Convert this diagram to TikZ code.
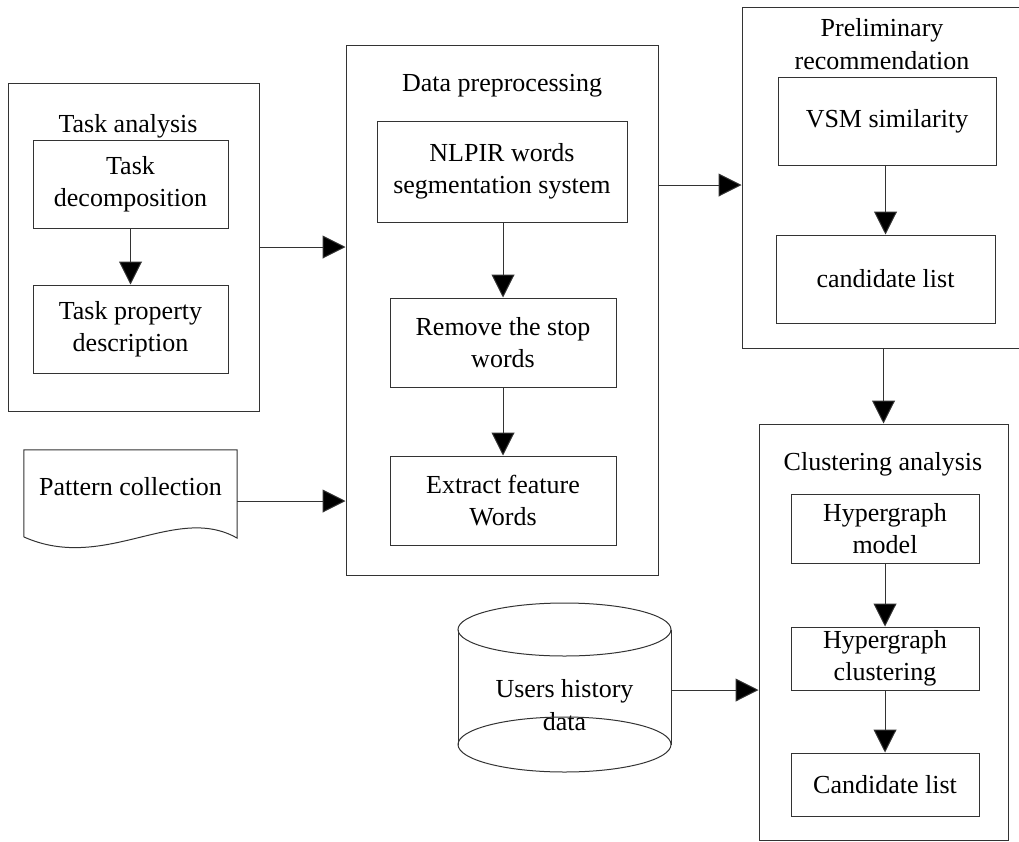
\documentclass[tikz,border=0pt]{standalone}
\usepackage{fontspec}
\setmainfont{Liberation Serif}
\usetikzlibrary{arrows.meta,calc}
\begin{document}
\begin{tikzpicture}[x=1pt,y=-1pt,
  every node/.style={font=\fontsize{26}{32.5}\selectfont, align=center, inner sep=0pt},
  frame/.style={draw=black!80, line width=1pt, rectangle},
  box/.style={draw=black!80, line width=1pt, rectangle},
  arr/.style={draw=black!80, line width=1pt, -{Triangle[length=23pt,width=23pt,fill=black]}},
  shp/.style={draw=black!80, line width=1pt}
]
\useasboundingbox (0,0) rectangle (1019,841);

% Task analysis
\node[frame, minimum width=251pt, minimum height=328pt] (ta) at (133.5,247) {};
\node (tat) at (128,126) {Task analysis};
\node[box, minimum width=195pt, minimum height=88pt] (td) at (130.5,184) {\raisebox{-3pt}{\parbox{190pt}{\centering Task\\decomposition}}};
\node[box, minimum width=195pt, minimum height=88pt] (tp) at (130.5,329) {Task property\\description};

% Data preprocessing
\node[frame, minimum width=312pt, minimum height=530pt] (dp) at (502,310) {};
\node (dpt) at (502,86) {Data preprocessing};
\node[box, minimum width=250pt, minimum height=101pt] (nl) at (502,171.5) {NLPIR words\\segmentation system};
\node[box, minimum width=226pt, minimum height=89pt] (rm) at (503,342.5) {Remove the stop\\words};
\node[box, minimum width=226pt, minimum height=89pt] (ex) at (503,500.5) {Extract feature\\Words};

% Pattern collection (document shape)
\node[minimum width=213pt, minimum height=87pt] (pc) at (130.5,493.5) {};
\node (pct) at (130.5,487) {Pattern collection};
\draw[shp] (pc.north west) -- (pc.north east) -- (237,538)
  .. controls (175,503) and (105,573) .. (24,537) -- cycle;

% Preliminary recommendation
\node[frame, minimum width=283pt, minimum height=341pt] (pr) at (883.5,177.5) {};
\node (prt) at (882,44) {Preliminary\\recommendation};
\node[box, minimum width=218pt, minimum height=88pt] (vsm) at (887,121) {VSM similarity};
\node[box, minimum width=219pt, minimum height=88pt] (cl1) at (885.5,279) {candidate list};

% Clustering analysis
\node[frame, minimum width=249pt, minimum height=416pt] (ca) at (883.5,632) {};
\node (cat) at (883,464) {Clustering analysis};
\node[box, minimum width=188pt, minimum height=69pt] (hm) at (885,528.5) {Hypergraph\\model};
\node[box, minimum width=188pt, minimum height=63pt] (hc) at (885,658.5) {Hypergraph\\clustering};
\node[box, minimum width=188pt, minimum height=63pt] (cl2) at (885,784.5) {Candidate list};

% Users history data (cylinder)
\node[minimum width=213pt, minimum height=60pt] (cyl) at (564.5,705) {Users history\\data};
\draw[shp] (458,629.5) -- (458,744.5);
\draw[shp] (671,629.5) -- (671,744.5);
\draw[shp] (564.5,629.5) ellipse [x radius=106.5pt, y radius=26.5pt];
\draw[shp] (564.5,744.5) ellipse [x radius=106.5pt, y radius=27.5pt];

% connectors
\draw[arr] (td) -- (tp);
\draw[arr] (nl.south -| rm.north) -- (rm);
\draw[arr] (rm) -- (ex);
\draw[arr] (vsm.south -| cl1.north) -- (cl1);
\draw[arr] (hm) -- (hc);
\draw[arr] (hc) -- (cl2);
\draw[arr] (ta) -- (ta -| dp.west);
\coordinate (pcout) at (237,501);
\draw[arr] (pcout) -- (pcout -| dp.west);
\coordinate (dpout) at (658,185);
\draw[arr] (dpout) -- (dpout -| pr.west);
\draw[arr] (ca.north |- pr.south) -- (ca.north);
\coordinate (cylout) at (671,690);
\draw[arr] (cylout) -- (cylout -| ca.west);
\end{tikzpicture}
\end{document}
